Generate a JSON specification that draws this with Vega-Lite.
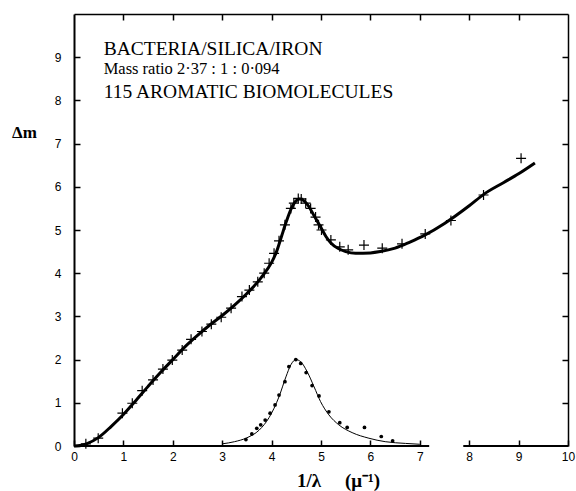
{
  "$schema": "https://vega.github.io/schema/vega-lite/v6.json",
  "width": 494,
  "height": 432,
  "autosize": {"type": "none"},
  "padding": {"left": 74, "top": 14, "right": 8, "bottom": 45},
  "background": "white",
  "config": {
    "view": {"stroke": null},
    "axis": {
      "grid": false,
      "domainColor": "black",
      "tickColor": "black",
      "labelColor": "black",
      "titleColor": "black",
      "labelFont": "Liberation Sans",
      "labelFontSize": 12,
      "tickSize": -6,
      "tickWidth": 1.5,
      "domainWidth": 1.6
    }
  },
  "datasets": {
    "baseline": [
      {"x": 0, "x2": 7.19, "y": 0},
      {"x": 7.88, "x2": 10, "y": 0}
    ],
    "main": [
      {"x": 0.0, "y": 0.0},
      {"x": 0.12, "y": 0.01},
      {"x": 0.25, "y": 0.05},
      {"x": 0.5, "y": 0.2},
      {"x": 0.75, "y": 0.45},
      {"x": 1.0, "y": 0.73},
      {"x": 1.25, "y": 1.05},
      {"x": 1.5, "y": 1.38},
      {"x": 1.75, "y": 1.7},
      {"x": 2.0, "y": 2.0},
      {"x": 2.25, "y": 2.3},
      {"x": 2.5, "y": 2.56},
      {"x": 2.75, "y": 2.8},
      {"x": 3.0, "y": 3.02},
      {"x": 3.25, "y": 3.26},
      {"x": 3.5, "y": 3.53},
      {"x": 3.75, "y": 3.84},
      {"x": 3.9, "y": 4.07},
      {"x": 4.0, "y": 4.25},
      {"x": 4.1, "y": 4.5},
      {"x": 4.2, "y": 4.85},
      {"x": 4.3, "y": 5.2},
      {"x": 4.4, "y": 5.5},
      {"x": 4.5, "y": 5.68},
      {"x": 4.57, "y": 5.72},
      {"x": 4.65, "y": 5.68},
      {"x": 4.75, "y": 5.55},
      {"x": 4.85, "y": 5.35},
      {"x": 5.0, "y": 5.05},
      {"x": 5.1, "y": 4.85},
      {"x": 5.2, "y": 4.7},
      {"x": 5.35, "y": 4.57},
      {"x": 5.5, "y": 4.5},
      {"x": 5.7, "y": 4.46},
      {"x": 6.0, "y": 4.47},
      {"x": 6.2, "y": 4.5},
      {"x": 6.5, "y": 4.58},
      {"x": 6.8, "y": 4.72},
      {"x": 7.1, "y": 4.88},
      {"x": 7.5, "y": 5.15},
      {"x": 8.0, "y": 5.56},
      {"x": 8.3, "y": 5.83},
      {"x": 8.7, "y": 6.1},
      {"x": 9.0, "y": 6.3},
      {"x": 9.33, "y": 6.55}
    ],
    "crosses": [
      {"x": 0.24, "y": 0.05},
      {"x": 0.49, "y": 0.18},
      {"x": 0.98, "y": 0.76},
      {"x": 1.18, "y": 0.99},
      {"x": 1.38, "y": 1.28},
      {"x": 1.6, "y": 1.53},
      {"x": 1.8, "y": 1.78},
      {"x": 1.99, "y": 1.99},
      {"x": 2.19, "y": 2.22},
      {"x": 2.37, "y": 2.47},
      {"x": 2.59, "y": 2.65},
      {"x": 2.78, "y": 2.82},
      {"x": 2.98, "y": 2.98},
      {"x": 3.18, "y": 3.19},
      {"x": 3.4, "y": 3.46},
      {"x": 3.55, "y": 3.61},
      {"x": 3.72, "y": 3.8},
      {"x": 3.85, "y": 4.0},
      {"x": 3.95, "y": 4.23},
      {"x": 4.05, "y": 4.46},
      {"x": 4.15, "y": 4.75},
      {"x": 4.27, "y": 5.12},
      {"x": 4.39, "y": 5.5},
      {"x": 4.45, "y": 5.62},
      {"x": 4.54, "y": 5.73},
      {"x": 4.6, "y": 5.72},
      {"x": 4.69, "y": 5.62},
      {"x": 4.79, "y": 5.5},
      {"x": 4.89, "y": 5.3},
      {"x": 4.95, "y": 5.12},
      {"x": 5.01, "y": 5.0},
      {"x": 5.2, "y": 4.77},
      {"x": 5.38, "y": 4.61},
      {"x": 5.55, "y": 4.54},
      {"x": 5.87, "y": 4.65},
      {"x": 6.24, "y": 4.58},
      {"x": 6.64, "y": 4.68},
      {"x": 7.11, "y": 4.91},
      {"x": 7.63, "y": 5.22},
      {"x": 8.29, "y": 5.81},
      {"x": 9.05, "y": 6.66}
    ],
    "lower": [
      {"x": 3.0, "y": 0.05},
      {"x": 3.25, "y": 0.1},
      {"x": 3.5, "y": 0.19},
      {"x": 3.75, "y": 0.37},
      {"x": 3.95, "y": 0.66},
      {"x": 4.15, "y": 1.14},
      {"x": 4.29, "y": 1.6},
      {"x": 4.39, "y": 1.88},
      {"x": 4.49, "y": 2.0},
      {"x": 4.59, "y": 1.95},
      {"x": 4.72, "y": 1.72},
      {"x": 4.86, "y": 1.37},
      {"x": 4.99, "y": 1.03},
      {"x": 5.16, "y": 0.72},
      {"x": 5.36, "y": 0.49},
      {"x": 5.63, "y": 0.31},
      {"x": 5.97, "y": 0.18},
      {"x": 6.3, "y": 0.1},
      {"x": 6.71, "y": 0.06},
      {"x": 7.0, "y": 0.04}
    ],
    "dots": [
      {"x": 3.48, "y": 0.15},
      {"x": 3.6, "y": 0.28},
      {"x": 3.7, "y": 0.41},
      {"x": 3.78, "y": 0.49},
      {"x": 3.87, "y": 0.6},
      {"x": 3.97, "y": 0.76},
      {"x": 4.07, "y": 0.95},
      {"x": 4.15, "y": 1.18},
      {"x": 4.27, "y": 1.49},
      {"x": 4.35, "y": 1.84},
      {"x": 4.49, "y": 2.0},
      {"x": 4.59, "y": 1.91},
      {"x": 4.7, "y": 1.7},
      {"x": 4.82, "y": 1.4},
      {"x": 4.96, "y": 1.16},
      {"x": 5.16, "y": 0.79},
      {"x": 5.38, "y": 0.54},
      {"x": 5.53, "y": 0.43},
      {"x": 5.88, "y": 0.43},
      {"x": 6.22, "y": 0.22},
      {"x": 6.45, "y": 0.12}
    ]
  },
  "layer": [
    {
      "data": {"name": "baseline"},
      "mark": {"type": "rule", "color": "black", "strokeWidth": 2},
      "encoding": {
        "x": {
          "field": "x", "type": "quantitative",
          "scale": {"domain": [0, 10], "nice": false, "zero": false},
          "axis": {
            "orient": "bottom",
            "values": [0, 1, 2, 3, 4, 5, 6, 7, 8, 9, 10],
            "format": "d",
            "domain": false,
            "labelPadding": 11,
            "labelFlush": false,
            "title": "1/λ\u2003 (μ⁻¹)",
            "titleFont": "Liberation Serif",
            "titleFontSize": 19,
            "titleFontWeight": "bold",
            "titleAnchor": null,
            "titleAlign": "center",
            "titleBaseline": "alphabetic",
            "titleX": 264,
            "titleY": 40
          }
        },
        "x2": {"field": "x2"},
        "y": {
          "field": "y", "type": "quantitative",
          "scale": {"domain": [0, 10], "nice": false, "zero": false},
          "axis": {
            "orient": "left",
            "values": [0, 1, 2, 3, 4, 5, 6, 7, 8, 9],
            "format": "d",
            "labelPadding": 19,
            "labelFlush": false,
            "domainWidth": 2,
            "title": "Δm",
            "titleFont": "Liberation Serif",
            "titleFontSize": 17,
            "titleFontWeight": "bold",
            "titleAngle": 0,
            "titleAnchor": null,
            "titleAlign": "center",
            "titleBaseline": "middle",
            "titleX": -50,
            "titleY": 118
          }
        }
      }
    },
    {
      "data": {"name": "main"},
      "mark": {"type": "line", "color": "black", "strokeWidth": 3, "interpolate": "monotone"},
      "encoding": {
        "x": {
          "field": "x", "type": "quantitative",
          "axis": {"orient": "top", "values": [1, 2, 3, 4, 5, 6, 7, 8, 9], "labels": false, "title": null, "domainWidth": 1.5}
        },
        "y": {
          "field": "y", "type": "quantitative",
          "axis": {"orient": "right", "values": [1, 2, 3, 4, 5, 6, 7, 8, 9], "labels": false, "title": null, "domainWidth": 1.5}
        }
      }
    },
    {
      "data": {"name": "crosses"},
      "mark": {"type": "point", "shape": "M-1,0H1M0,-1V1", "size": 100, "filled": false, "stroke": "black", "strokeWidth": 1.2, "opacity": 1},
      "encoding": {
        "x": {"field": "x", "type": "quantitative", "axis": null},
        "y": {"field": "y", "type": "quantitative", "axis": null}
      }
    },
    {
      "data": {"name": "lower"},
      "mark": {"type": "line", "color": "black", "strokeWidth": 1, "interpolate": "monotone"},
      "encoding": {
        "x": {"field": "x", "type": "quantitative", "axis": null},
        "y": {"field": "y", "type": "quantitative", "axis": null}
      }
    },
    {
      "data": {"name": "dots"},
      "mark": {"type": "circle", "color": "black", "size": 14, "opacity": 1},
      "encoding": {
        "x": {"field": "x", "type": "quantitative", "axis": null},
        "y": {"field": "y", "type": "quantitative", "axis": null}
      }
    },
    {
      "data": {"values": [{"x": 0.6, "y": 9.06, "t": "BACTERIA/SILICA/IRON"}, {"x": 0.6, "y": 8.05, "t": "115 AROMATIC BIOMOLECULES"}]},
      "mark": {"type": "text", "align": "left", "baseline": "alphabetic", "font": "Liberation Serif", "fontSize": 19.5, "color": "black"},
      "encoding": {
        "x": {"field": "x", "type": "quantitative", "axis": null},
        "y": {"field": "y", "type": "quantitative", "axis": null},
        "text": {"field": "t"}
      }
    },
    {
      "data": {"values": [{"x": 0.6, "y": 8.6, "t": "Mass ratio 2·37 : 1 : 0·094"}]},
      "mark": {"type": "text", "align": "left", "baseline": "alphabetic", "font": "Liberation Serif", "fontSize": 16.5, "color": "black"},
      "encoding": {
        "x": {"field": "x", "type": "quantitative", "axis": null},
        "y": {"field": "y", "type": "quantitative", "axis": null},
        "text": {"field": "t"}
      }
    }
  ],
  "resolve": {"axis": {"x": "independent", "y": "independent"}}
}
